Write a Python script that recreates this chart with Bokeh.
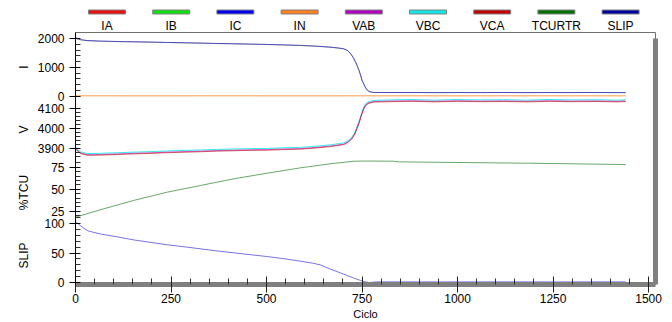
import math
from bokeh.plotting import figure
from bokeh.models import Range1d, LinearAxis, FixedTicker
from bokeh.layouts import gridplot
from bokeh.embed import file_html
from bokeh.resources import INLINE
from bokeh.core.properties import value

FONT = "Liberation Sans"

# ---------------- data ----------------
legend_names = ["IA", "IB", "IC", "IN", "VAB", "VBC", "VCA", "TCURTR", "SLIP"]
legend_colors = ["#e81010", "#10e010", "#0000f0", "#ff8020", "#b000c0",
                 "#10e8e8", "#c00000", "#007000", "#0000a0"]

ciclo_i = [0, 5, 13, 30, 65, 110, 152, 200, 240, 290, 327, 370, 414, 460, 502, 545,
           589, 630, 667, 690, 702, 712, 720, 727, 733, 738, 742, 746, 750, 755, 759,
           764, 768, 774, 780, 820, 880, 940, 1000, 1060, 1120, 1180, 1240, 1300,
           1360, 1420, 1440]
ia = [2045, 1990, 1958, 1927, 1908, 1894, 1884, 1873, 1860, 1849, 1838, 1825, 1816,
      1802, 1792, 1775, 1758, 1731, 1698, 1664, 1638, 1582, 1470, 1335, 1178, 1028,
      890, 722, 541, 402, 288, 202, 158, 136, 123, 119, 121, 117, 120, 118, 121, 117,
      120, 119, 121, 118, 119]
ib = [2040, 1985, 1952, 1922, 1903, 1890, 1881, 1869, 1857, 1845, 1835, 1822, 1812,
      1799, 1789, 1772, 1754, 1728, 1694, 1660, 1633, 1575, 1462, 1326, 1170, 1020,
      882, 715, 535, 397, 283, 198, 155, 133, 121, 117, 119, 116, 118, 117, 119, 116,
      118, 117, 119, 116, 117]
ic = [2035, 1992, 1960, 1929, 1910, 1896, 1886, 1875, 1862, 1851, 1840, 1828, 1818,
      1805, 1794, 1778, 1760, 1734, 1700, 1667, 1641, 1586, 1475, 1340, 1183, 1033,
      894, 726, 545, 405, 290, 204, 160, 138, 124, 121, 122, 119, 121, 120, 122, 119,
      121, 120, 122, 119, 120]
ciclo_in = [0, 200, 400, 600, 800, 1000, 1200, 1440]
in_vals = [6, 5, 6, 5, 6, 5, 6, 5]

ciclo_v = [0, 5, 13, 30, 65, 110, 152, 200, 240, 290, 327, 370, 414, 460, 502, 545,
           589, 630, 667, 702, 715, 724, 731, 737, 742, 746, 750, 755, 760, 768, 781,
           820, 880, 940, 1000, 1060, 1120, 1180, 1240, 1300, 1360, 1420, 1440]
vab = [3903, 3888, 3876, 3867, 3868, 3871, 3874, 3877, 3880, 3883, 3885, 3888, 3890,
       3892, 3893, 3896, 3898, 3904, 3911, 3921, 3934, 3952, 3974, 4004, 4029, 4054,
       4079, 4104, 4121, 4131, 4137, 4139, 4141, 4138, 4141, 4139, 4140, 4138, 4141,
       4139, 4140, 4138, 4140]
vbc = [3908, 3893, 3882, 3873, 3874, 3877, 3880, 3883, 3886, 3889, 3891, 3894, 3896,
       3898, 3899, 3902, 3904, 3910, 3917, 3927, 3940, 3958, 3980, 4010, 4035, 4060,
       4085, 4110, 4127, 4137, 4143, 4145, 4147, 4144, 4147, 4145, 4146, 4144, 4147,
       4145, 4146, 4144, 4146]
vca = [3900, 3885, 3873, 3864, 3865, 3868, 3871, 3874, 3877, 3880, 3882, 3885, 3887,
       3889, 3890, 3893, 3895, 3901, 3908, 3918, 3931, 3949, 3971, 4001, 4026, 4051,
       4076, 4101, 4118, 4128, 4134, 4136, 4138, 4135, 4138, 4136, 4137, 4135, 4138,
       4136, 4137, 4135, 4137]

ciclo_tcu = [0, 65, 152, 240, 327, 414, 502, 589, 667, 729, 760, 833, 842, 1016, 1191, 1440]
tcurtr = [18.2, 26.6, 37.2, 46.6, 54.2, 61.8, 68.2, 74.3, 78.9, 81.8, 82.0, 81.8, 81.1,
          80.3, 79.5, 78.0]

ciclo_slip = [0, 5, 13, 25, 35, 65, 110, 152, 200, 240, 290, 327, 370, 414, 460, 502,
              545, 589, 620, 641, 667, 694, 711, 730, 746, 756, 764, 770, 776, 785, 850,
              950, 1050, 1150, 1250, 1350, 1440]
slip = [103, 100, 96, 90, 86.6, 82, 77, 72, 67.5, 63.8, 60, 57, 53.5, 50.3, 47, 44,
        40.5, 36.2, 33, 30, 23, 16.5, 12.2, 7.5, 3.9, 2, 1, 0.3, 0.8, 1.5, 1.5, 1.4,
        1.5, 1.5, 1.4, 1.5, 1.5]

x_ticks = [0, 250, 500, 750, 1000, 1250, 1500]
i_ticks = [0, 1000, 2000]
v_ticks = [3900, 4000, 4100]
tcu_ticks = [25, 50, 75]
slip_ticks = [0, 50, 100]
band_titles = ["I", "V", "%TCU", "SLIP"]

# ---------------- layout of the stacked bands (pixel space of frame) ----------------
FRAME_W, FRAME_H = 580, 252
LEFT_W, BORDER_L, BORDER_R, BORDER_T, BORDER_B = 33, 42, 9, 0, 38
LEGEND_H = 32
# band: (reference value, pixel from frame bottom, pixels per unit)
bands = {"I": (0, 188.5, 0.02875), "V": (4100, 175.7, 0.197),
         "TCU": (75, 117.3, 0.88), "SLIP": (0, 1.7, 0.596)}
title_px = [217.3, 155, 92, 29]


def to_px(band, v):
    va, pa, s = bands[band]
    r = round(pa + (v - va) * s, 2)
    return int(r) if r == int(r) else r


main_w = BORDER_L + FRAME_W + BORDER_R
main_h = BORDER_T + FRAME_H + BORDER_B

p = figure(width=main_w, height=main_h, output_backend="svg", toolbar_location=None,
           x_range=Range1d(0, 1518), y_range=Range1d(0, FRAME_H),
           min_border_left=BORDER_L, min_border_right=BORDER_R,
           min_border_top=BORDER_T, min_border_bottom=BORDER_B,
           background_fill_color="white", border_fill_color="white",
           outline_line_color="#707070", outline_line_width=1)
p.grid.visible = False

for name, (va, pa, s) in bands.items():
    p.extra_y_ranges[name] = Range1d(va - pa / s, va + (FRAME_H - pa) / s)

# lines
p.line(ciclo_in, in_vals, y_range_name="I", line_color=legend_colors[3], line_width=1, line_alpha=0.8)
p.line(ciclo_i, ia, y_range_name="I", line_color=legend_colors[0], line_width=1, line_alpha=0.35)
p.line(ciclo_i, ib, y_range_name="I", line_color=legend_colors[1], line_width=1, line_alpha=0.3)
p.line(ciclo_i, ic, y_range_name="I", line_color=legend_colors[2], line_width=1, line_alpha=0.6)
p.line(ciclo_v, vbc, y_range_name="V", line_color=legend_colors[5], line_width=1, line_alpha=0.85)
p.line(ciclo_v, vab, y_range_name="V", line_color=legend_colors[4], line_width=1, line_alpha=0.6)
p.line(ciclo_v, vca, y_range_name="V", line_color=legend_colors[6], line_width=1, line_alpha=0.6)
p.line(ciclo_tcu, tcurtr, y_range_name="TCU", line_color=legend_colors[7], line_width=1, line_alpha=0.6)
p.line(ciclo_slip, slip, y_range_name="SLIP", line_color="#0000d0", line_width=1, line_alpha=0.55)

# left axis with band ticks
major_pos, overrides, minor_pos = [], {}, []
for band, ticks in (("I", i_ticks), ("V", v_ticks), ("TCU", tcu_ticks), ("SLIP", slip_ticks)):
    for t in ticks:
        pos = to_px(band, t)
        major_pos.append(pos)
        overrides[pos] = str(t)
for t in range(0, 2001, 200):
    if t % 1000:
        minor_pos.append(to_px("I", t))
for t in range(3860, 4101, 20):
    if t % 100:
        minor_pos.append(to_px("V", t))
for t in range(20, 81, 5):
    if t % 25:
        minor_pos.append(to_px("TCU", t))
for t in range(0, 111, 10):
    if t % 50:
        minor_pos.append(to_px("SLIP", t))

yax = p.yaxis[0]
yax.ticker = FixedTicker(ticks=major_pos, minor_ticks=minor_pos)
yax.major_label_overrides = overrides
yax.axis_line_color = "black"
yax.major_tick_line_color = "black"
yax.minor_tick_line_color = "#303030"
yax.major_tick_in = 5
yax.major_tick_out = 6
yax.minor_tick_in = 5
yax.minor_tick_out = 0
yax.major_label_standoff = 5
yax.major_label_text_font = FONT
yax.major_label_text_font_size = "12px"
yax.major_label_text_color = "black"

# x axis
xax = p.xaxis[0]
xax.ticker = FixedTicker(ticks=x_ticks, minor_ticks=[m for m in range(0, 1501, 50) if m % 250])
xax.axis_line_width = 5
xax.axis_line_color = "#808080"
xax.major_tick_line_color = "#202020"
xax.minor_tick_line_color = "#303030"
xax.major_tick_in = 8
xax.major_tick_out = 8
xax.minor_tick_in = 6
xax.minor_tick_out = 0
xax.major_label_standoff = 1
xax.major_label_text_font = FONT
xax.major_label_text_font_size = "12px"
xax.major_label_text_color = "black"
xax.axis_label = "Ciclo"
xax.axis_label_standoff = 2
xax.axis_label_text_font = FONT
xax.axis_label_text_font_size = "11px"
xax.axis_label_text_font_style = "normal"
xax.axis_label_text_color = "black"

# right shadow
rax = LinearAxis(ticker=FixedTicker(ticks=[]), axis_line_width=5, axis_line_color="#808080",
                 major_tick_line_color=None, minor_tick_line_color=None,
                 major_label_text_font_size="0px", bounds=(0, FRAME_H - 6))
p.add_layout(rax, "right")

# band titles (left strip, same vertical pixel space as the main frame)
lf = figure(width=LEFT_W, height=main_h, output_backend="svg", toolbar_location=None,
            x_range=Range1d(0, LEFT_W), y_range=Range1d(0, FRAME_H),
            x_axis_type=None, y_axis_type=None,
            min_border_left=0, min_border_right=0,
            min_border_top=BORDER_T, min_border_bottom=BORDER_B,
            outline_line_color=None, background_fill_color="white", border_fill_color="white")
lf.grid.visible = False
lf.text(x=[23] * len(band_titles), y=title_px, text=band_titles, angle=math.pi / 2,
        text_font=value(FONT), text_font_size="12px", text_align="center",
        text_baseline="middle", text_color="black")

# legend strip (same horizontal pixel space as the main frame)
idx = list(range(len(legend_names)))
lg = figure(width=main_w, height=LEGEND_H, output_backend="svg", toolbar_location=None,
            x_range=Range1d(-31.5 / 64.2, (FRAME_W - 31.5) / 64.2), y_range=Range1d(LEGEND_H, 0),
            x_axis_type=None, y_axis_type=None,
            min_border_left=BORDER_L, min_border_right=BORDER_R,
            min_border_top=0, min_border_bottom=0,
            outline_line_color=None, background_fill_color="white", border_fill_color="white")
lg.grid.visible = False
lg.rect(x=idx, y=11.5, width=37, height=4, width_units="screen", height_units="screen",
        fill_color=legend_colors, line_color="#808080", line_width=1)
lg.text(x=idx, y=25, text=legend_names, text_font=value(FONT), text_font_size="12px",
        text_align="center", text_baseline="middle", text_color="black")

layout = gridplot([[None, lg], [lf, p]], toolbar_location=None)
open("out.html", "w").write(file_html(layout, INLINE))
